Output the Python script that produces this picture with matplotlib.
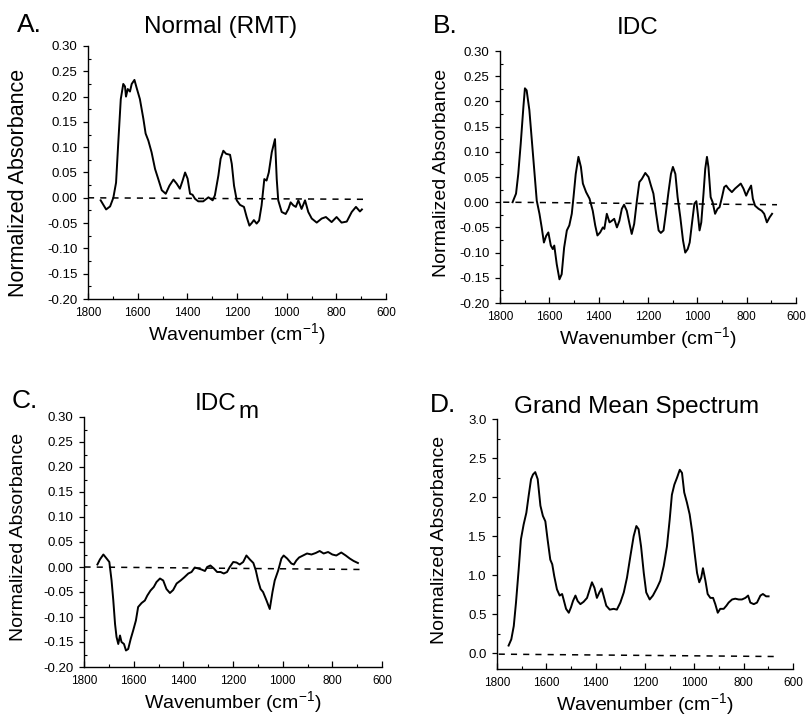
import matplotlib
matplotlib.use("Agg")
import matplotlib.pyplot as plt
from matplotlib.ticker import MultipleLocator, FormatStrFormatter

plt.rcParams['font.family'] = ['Liberation Sans', 'DejaVu Sans']
plt.rcParams['mathtext.default'] = 'regular'

# ---------------- data ----------------
a_wn = [1749, 1727, 1711, 1698, 1687, 1678, 1668, 1658, 1651, 1647, 1640, 1631, 1624, 1613, 1604,
        1591, 1577, 1568, 1557, 1544, 1530, 1517, 1503, 1487, 1472, 1456, 1443, 1430, 1419, 1409,
        1399, 1389, 1379, 1369, 1356, 1336, 1315, 1298, 1289, 1275, 1266, 1255, 1244, 1228, 1221,
        1212, 1201, 1188, 1172, 1161, 1150, 1141, 1132, 1121, 1111, 1101, 1090, 1081, 1072, 1060,
        1047, 1040, 1034, 1020, 1004, 993, 984, 973, 963, 953, 940, 926, 913, 899, 879, 859, 842,
        819, 799, 779, 758, 738, 721, 705, 697]
a_abs = [-0.005, -0.023, -0.017, 0.0, 0.03, 0.11, 0.195, 0.225, 0.22, 0.20, 0.215, 0.21, 0.225,
         0.233, 0.217, 0.195, 0.156, 0.127, 0.113, 0.09, 0.057, 0.037, 0.015, 0.008, 0.024, 0.036,
         0.028, 0.018, 0.034, 0.05, 0.038, 0.008, 0.006, -0.002, -0.007, -0.007, 0.001, -0.005,
         0.005, 0.044, 0.077, 0.093, 0.087, 0.085, 0.067, 0.024, -0.005, -0.014, -0.018, -0.038,
         -0.055, -0.05, -0.044, -0.051, -0.045, -0.015, 0.037, 0.034, 0.05, 0.09, 0.116, 0.037,
         -0.005, -0.028, -0.032, -0.022, -0.009, -0.015, -0.018, -0.005, -0.022, -0.005, -0.028,
         -0.041, -0.049, -0.041, -0.038, -0.048, -0.038, -0.049, -0.047, -0.028, -0.018, -0.027,
         -0.023]

b_wn = [1749, 1735, 1726, 1716, 1705, 1699, 1692, 1681, 1671, 1661, 1651, 1640, 1631, 1622, 1613,
        1604, 1594, 1586, 1580, 1570, 1559, 1550, 1540, 1529, 1519, 1509, 1502, 1493, 1482, 1472,
        1464, 1451, 1437, 1424, 1414, 1405, 1394, 1383, 1377, 1367, 1356, 1347, 1337, 1326, 1316,
        1306, 1297, 1286, 1275, 1266, 1256, 1245, 1235, 1225, 1211, 1198, 1188, 1178, 1167, 1157,
        1148, 1137, 1128, 1117, 1107, 1099, 1089, 1080, 1069, 1058, 1049, 1039, 1031, 1022, 1012,
        1004, 998, 991, 984, 975, 968, 961, 955, 946, 938, 928, 918, 910, 900, 891, 883, 874, 860,
        847, 833, 824, 813, 802, 793, 782, 775, 766, 752, 739, 729, 718, 707, 697]
b_abs = [0.0, 0.017, 0.056, 0.116, 0.19, 0.226, 0.222, 0.183, 0.123, 0.063, 0.003, -0.023, -0.05,
         -0.08, -0.067, -0.06, -0.086, -0.093, -0.086, -0.123, -0.153, -0.143, -0.09, -0.056,
         -0.046, -0.023, 0.01, 0.056, 0.09, 0.07, 0.037, 0.02, 0.007, -0.017, -0.046, -0.066,
         -0.06, -0.05, -0.053, -0.023, -0.04, -0.037, -0.033, -0.05, -0.037, -0.013, -0.005,
         -0.017, -0.043, -0.063, -0.043, 0.003, 0.04, 0.046, 0.058, 0.05, 0.033, 0.017, -0.023,
         -0.056, -0.061, -0.056, -0.023, 0.02, 0.056, 0.07, 0.056, 0.01, -0.03, -0.076, -0.1,
         -0.093, -0.08, -0.043, -0.003, 0.002, -0.023, -0.056, -0.04, 0.017, 0.066, 0.09, 0.07,
         0.01, 0.0, -0.023, -0.013, -0.01, 0.01, 0.03, 0.033, 0.027, 0.02, 0.027, 0.033, 0.037,
         0.027, 0.013, 0.023, 0.033, 0.007, -0.007, -0.013, -0.017, -0.023, -0.04, -0.03, -0.023]

c_wn = [1746, 1736, 1722, 1709, 1698, 1689, 1682, 1675, 1669, 1662, 1655, 1649, 1639, 1631, 1622,
        1612, 1602, 1591, 1582, 1568, 1555, 1545, 1532, 1519, 1508, 1494, 1481, 1468, 1454, 1441,
        1427, 1411, 1397, 1380, 1367, 1354, 1340, 1327, 1313, 1304, 1291, 1277, 1264, 1250, 1237,
        1224, 1213, 1199, 1186, 1173, 1159, 1146, 1132, 1118, 1108, 1099, 1089, 1079, 1065, 1052,
        1041, 1032, 1018, 1005, 996, 982, 965, 955, 945, 934, 918, 902, 884, 867, 851, 835, 817,
        800, 784, 764, 746, 730, 714, 697]
c_abs = [0.005, 0.015, 0.025, 0.017, 0.01, -0.027, -0.067, -0.114, -0.14, -0.154, -0.137, -0.15,
         -0.154, -0.167, -0.164, -0.144, -0.127, -0.107, -0.08, -0.072, -0.067, -0.057, -0.047,
         -0.04, -0.03, -0.023, -0.027, -0.044, -0.052, -0.046, -0.033, -0.027, -0.021, -0.013,
         -0.01, -0.001, -0.003, -0.005, -0.008, 0.0, 0.003, -0.003, -0.01, -0.01, -0.013, -0.01,
         0.0, 0.01, 0.009, 0.005, 0.01, 0.023, 0.015, 0.008, -0.007, -0.027, -0.044, -0.05,
         -0.067, -0.084, -0.05, -0.027, -0.007, 0.017, 0.023, 0.017, 0.007, 0.005, 0.013, 0.019,
         0.023, 0.027, 0.025, 0.028, 0.032, 0.027, 0.03, 0.025, 0.023, 0.029, 0.023, 0.017, 0.012,
         0.008]

d_wn = [1753, 1742, 1732, 1723, 1712, 1703, 1692, 1681, 1672, 1662, 1654, 1645, 1635, 1624, 1614,
        1604, 1595, 1584, 1576, 1568, 1557, 1546, 1536, 1530, 1520, 1509, 1500, 1492, 1482, 1473,
        1462, 1449, 1435, 1424, 1415, 1405, 1395, 1385, 1376, 1368, 1357, 1343, 1327, 1314, 1300,
        1286, 1273, 1259, 1246, 1235, 1226, 1216, 1205, 1195, 1181, 1168, 1151, 1138, 1124, 1111,
        1100, 1091, 1081, 1070, 1059, 1050, 1041, 1030, 1019, 1008, 999, 989, 980, 972, 965, 955,
        946, 935, 924, 915, 905, 895, 881, 870, 861, 847, 834, 820, 807, 793, 782, 773, 759, 746,
        732, 722, 709, 699]
d_abs = [0.1, 0.18, 0.35, 0.65, 1.08, 1.46, 1.65, 1.8, 2.01, 2.23, 2.29, 2.32, 2.23, 1.89, 1.76,
         1.69, 1.46, 1.2, 1.14, 0.99, 0.82, 0.74, 0.76, 0.69, 0.57, 0.52, 0.59, 0.67, 0.74, 0.67,
         0.63, 0.66, 0.71, 0.82, 0.91, 0.84, 0.71, 0.78, 0.83, 0.74, 0.61, 0.56, 0.57, 0.56, 0.65,
         0.78, 0.97, 1.25, 1.5, 1.63, 1.59, 1.37, 1.03, 0.78, 0.69, 0.74, 0.84, 0.93, 1.12, 1.37,
         1.71, 2.03, 2.16, 2.25, 2.35, 2.31, 2.06, 1.93, 1.78, 1.54, 1.29, 1.03, 0.91, 0.97, 1.09,
         0.93, 0.76, 0.71, 0.71, 0.63, 0.52, 0.57, 0.57, 0.61, 0.65, 0.69, 0.7, 0.69, 0.69, 0.71,
         0.74, 0.65, 0.63, 0.65, 0.74, 0.76, 0.73, 0.73]

# dashed baselines (start / end wavenumber and value)
a_base_wn, a_base = [1800, 678], [0.0, -0.003]
b_base_wn, b_base = [1787, 677], [0.0, -0.005]
c_base_wn, c_base = [1798, 677], [0.0, -0.005]
d_base_wn, d_base = [1793, 678], [-0.01, -0.04]

panels = [
    dict(letter="A.", title="Normal (RMT)", wn=a_wn, ab=a_abs, bwn=a_base_wn, bab=a_base,
         rect=[88, 46, 386, 299], ylim=(-0.20, 0.30), major=0.05, minor=0.025, fmt='%.2f',
         ylabfs=15.5, ylab=(29, 182.5), letter_xy=(17, 31.5), title_xy=(221, 33.5)),
    dict(letter="B.", title="IDC", wn=b_wn, ab=b_abs, bwn=b_base_wn, bab=b_base,
         rect=[500, 51, 796, 303], ylim=(-0.20, 0.30), major=0.05, minor=0.025, fmt='%.2f',
         ylabfs=14, ylab=(450, 172.5), letter_xy=(433, 33), title_xy=(638, 34.5)),
    dict(letter="C.", title=None, wn=c_wn, ab=c_abs, bwn=c_base_wn, bab=c_base,
         rect=[84, 417, 382, 667], ylim=(-0.20, 0.30), major=0.05, minor=0.025, fmt='%.2f',
         ylabfs=14, ylab=(27, 536.5), letter_xy=(12, 408), title_xy=None),
    dict(letter="D.", title="Grand Mean Spectrum", wn=d_wn, ab=d_abs, bwn=d_base_wn, bab=d_base,
         rect=[497, 419, 793, 669], ylim=(-0.2, 3.0), major=0.5, minor=0.25, fmt='%.1f',
         ylabfs=14, ylab=(448, 539.5), letter_xy=(430, 412), title_xy=(637, 413)),
]

W, H = 806, 716
fig = plt.figure(figsize=(W / 100, H / 100), dpi=100)

for p in panels:
    l, t, r, b = p["rect"]
    ax = fig.add_axes([l / W, 1 - b / H, (r - l) / W, (b - t) / H])
    ax.plot(p["wn"], p["ab"], color='black', lw=1.4, solid_joinstyle='round')
    ax.plot(p["bwn"], p["bab"], color='black', lw=1.1, dashes=(4, 4))
    ax.set_xlim(1800, 600)
    ax.set_ylim(*p["ylim"])
    ax.spines['top'].set_visible(False)
    ax.spines['right'].set_visible(False)
    for s in ('left', 'bottom'):
        ax.spines[s].set_linewidth(1.0)
    ax.xaxis.set_major_locator(MultipleLocator(200))
    ax.xaxis.set_minor_locator(MultipleLocator(100))
    if p["ylim"][1] > 1:
        ax.set_yticks([0.0, 0.5, 1.0, 1.5, 2.0, 2.5, 3.0])
        ax.set_yticks([0.25, 0.75, 1.25, 1.75, 2.25, 2.75], minor=True)
    else:
        ax.yaxis.set_major_locator(MultipleLocator(p["major"]))
        ax.yaxis.set_minor_locator(MultipleLocator(p["minor"]))
    ax.yaxis.set_major_formatter(FormatStrFormatter(p["fmt"]))
    ax.tick_params(axis='x', which='major', direction='in', length=4, width=0.9,
                   labelsize=8.5, pad=6)
    ax.tick_params(axis='x', which='minor', direction='in', length=2.5, width=0.8)
    ax.tick_params(axis='y', which='major', direction='out', length=3.5, width=0.9,
                   labelsize=9.5, pad=4)
    ax.tick_params(axis='y', which='minor', direction='in', length=2.5, width=0.8)
    ax.set_xlabel("Wavenumber (cm$^{-1}$)", fontsize=14, labelpad=1)
    ax.set_ylabel("Normalized Absorbance", fontsize=p["ylabfs"])
    yx, yy = p["ylab"]
    ax.yaxis.set_label_coords((yx - l) / (r - l), (b - yy) / (b - t))
    lx, ly = p["letter_xy"]
    fig.text(lx / W, 1 - ly / H, p["letter"], fontsize=19, ha='left', va='baseline')
    if p["title"] is not None:
        tx, ty = p["title_xy"]
        fig.text(tx / W, 1 - ty / H, p["title"], fontsize=17.5, ha='center', va='baseline')
    else:
        idc = fig.text(195 / W, 1 - 410 / H, "IDC", fontsize=17.5, ha='left', va='baseline')
        fig.canvas.draw()
        ext = idc.get_window_extent()
        fig.text((ext.x1 + 2) / W, 1 - 418 / H, "m", fontsize=17.5, ha='left', va='baseline')

fig.savefig("out.png", dpi=100)
